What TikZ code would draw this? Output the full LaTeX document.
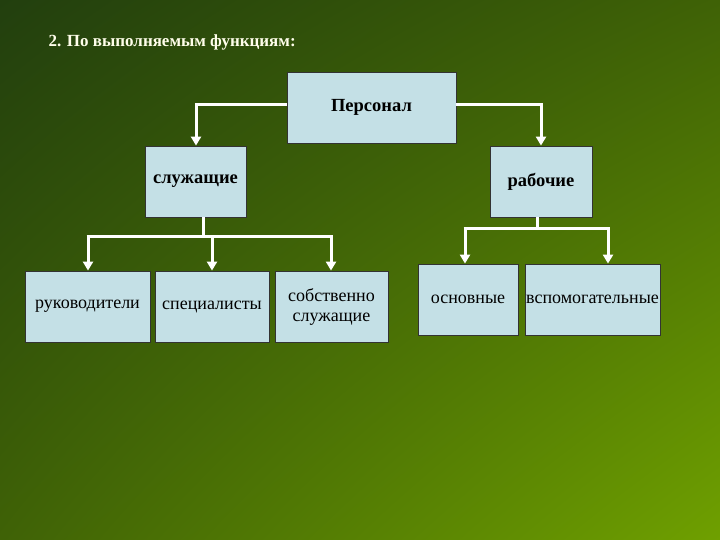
\documentclass[tikz,border=0pt]{standalone}
\usepackage{fontspec}
\setmainfont{Liberation Serif}
\usetikzlibrary{arrows.meta,shadings}
\definecolor{boxc}{HTML}{C4E0E6}
\definecolor{bgA}{HTML}{223F0E}
\definecolor{bgM}{HTML}{3F6206}
\definecolor{bgB}{HTML}{6FA000}
\begin{document}
\begin{tikzpicture}[x=1pt,y=-1pt,
  box/.style={draw=black!80,line width=0.8pt,fill=boxc,inner sep=0pt,font=\fontsize{18}{20}\selectfont,align=center},
  bbox/.style={box,font=\fontsize{18.5}{20}\selectfont\bfseries},
  conn/.style={white,line width=3pt},
  arr/.style={white,line width=3pt,-{Triangle[width=10pt,length=9pt]}}]
\shade[upper left=bgA,upper right=bgM,lower left=bgM,lower right=bgB] (0,0) rectangle (720,540);
\useasboundingbox (0,0) rectangle (720,540);
\node[anchor=west,text=white!92!yellow,font=\fontsize{17}{19}\selectfont\bfseries] (title) at (45,42) {2. По выполняемым функциям:};
\node[bbox,minimum width=169pt,minimum height=71pt] (p) at (371.5,107.5) {Персонал};
\node[bbox,minimum width=101pt,minimum height=71pt] (s) at (195.5,181.5) {служащие};
\node[bbox,minimum width=102pt,minimum height=71pt] (r) at (541,181.5) {рабочие};
\node[box,minimum width=125pt,minimum height=71pt] (b1) at (87.5,306.5) {руководители};
\node[box,minimum width=114pt,minimum height=71pt] (b2) at (212,306.5) {специалисты};
\node[box,minimum width=113pt,minimum height=71pt] (b3) at (331.5,306.5) {собственно\\служащие};
\node[box,minimum width=100pt,minimum height=71pt] (b4) at (468,299.5) {основные};
\node[box,minimum width=135pt,minimum height=71pt] (b5) at (592.5,299.5) {вспомогательные};
\coordinate (j1) at (203,236);
\coordinate (j2) at (537,229);
\draw[arr] (p.west |- 0,105) -| (s.north -| 196,0);
\draw[arr] (p.east |- 0,105) -| (r.north);
\draw[conn] (s.south -| j1) -- (j1);
\draw[conn] (86.5,236) -- (332.5,236);
\draw[arr] (88,236) -- (b1.north -| 88,0);
\draw[arr] (212,236) -- (b2.north);
\draw[arr] (331,236) -- (b3.north -| 331,0);
\draw[conn] (r.south -| j2) -- (j2);
\draw[conn] (463.5,229) -- (609.5,229);
\draw[arr] (465,229) -- (b4.north -| 465,0);
\draw[arr] (608,229) -- (b5.north -| 608,0);
\end{tikzpicture}
\end{document}
